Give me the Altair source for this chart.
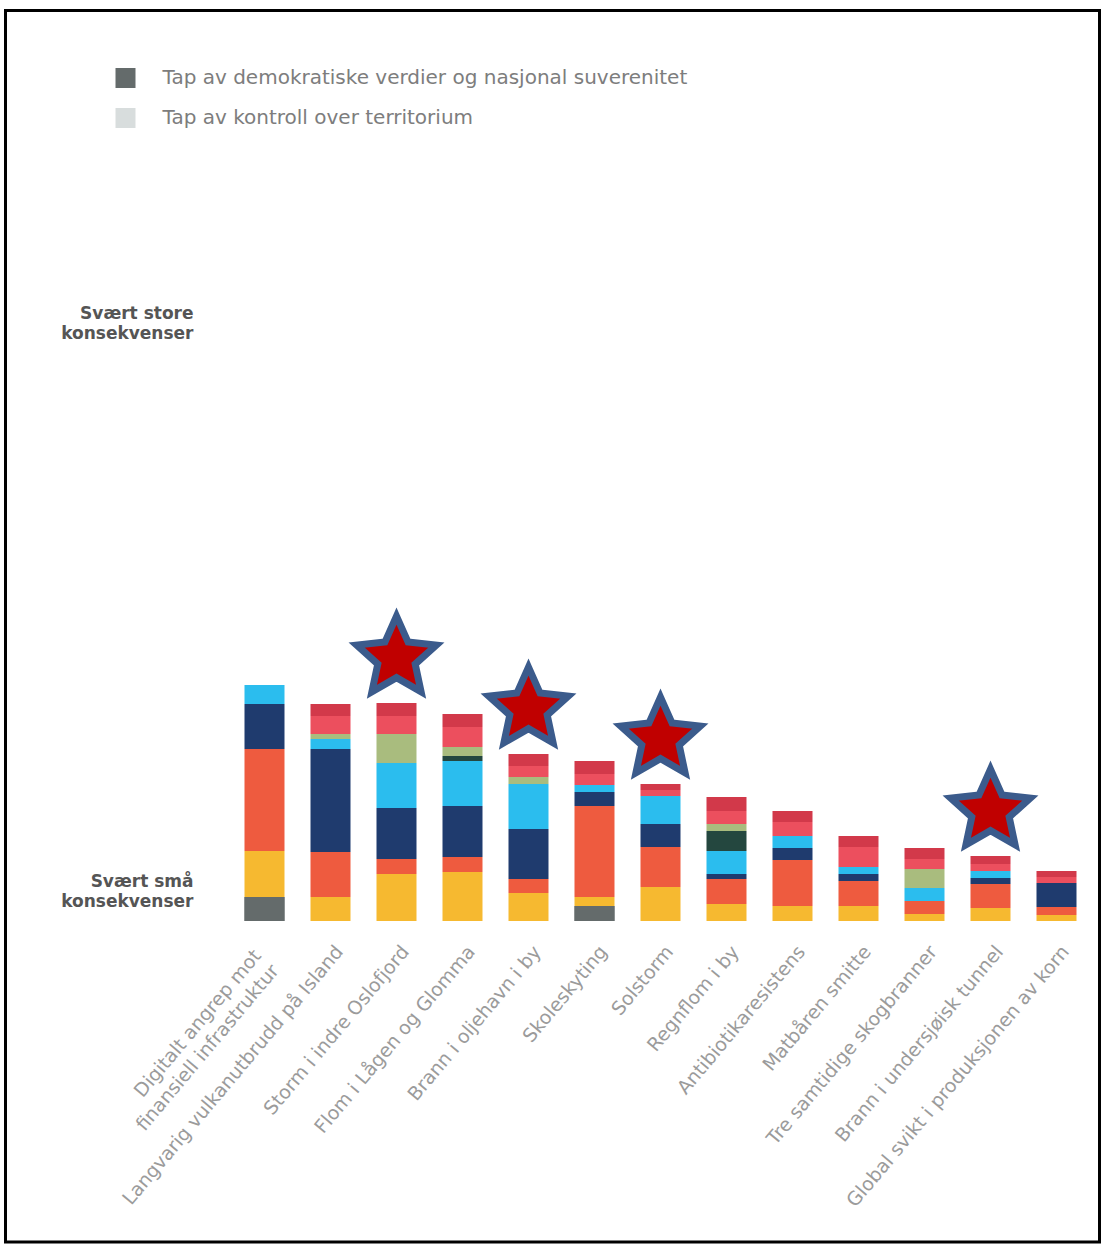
import altair as alt
import pandas as pd

scenarios = [
    "Digitalt angrep mot finansiell infrastruktur",
    "Langvarig vulkanutbrudd på Island",
    "Storm i indre Oslofjord",
    "Flom i Lågen og Glomma",
    "Brann i oljehavn i by",
    "Skoleskyting",
    "Solstorm",
    "Regnflom i by",
    "Antibiotikaresistens",
    "Matbåren smitte",
    "Tre samtidige skogbranner",
    "Brann i undersjøisk tunnel",
    "Global svikt i produksjonen av korn",
]

starred = [
    "Storm i indre Oslofjord",
    "Brann i oljehavn i by",
    "Solstorm",
    "Brann i undersjøisk tunnel",
]

series = [
    "Tap av demokratiske verdier og nasjonal suverenitet",
    "Tap av kontroll over territorium",
    "Økonomiske tap",
    "Påkjenninger i dagliglivet",
    "Manglende dekning av grunnleggende behov",
    "Sosiale og psykologiske reaksjoner",
    "Skader på kulturmiljø",
    "Langtidsskader på naturmiljø",
    "Alvorlig skadde og syke",
    "Dødsfall",
]
colors = ["#6D7575", "#D5DBDB", "#F6B930", "#EE5B3F", "#1F3B6E",
          "#2BBDEE", "#24473F", "#A9BC7E", "#EC4F5E", "#D2394A"]

v_demokrati = [24, 0, 0, 0, 0, 15, 0, 0, 0, 0, 0, 0, 0]
v_territorium = [0, 0, 0, 0, 0, 0, 0, 0, 0, 0, 0, 0, 0]
v_okonomi = [46, 24, 47, 49, 28, 9, 34, 17, 15, 15, 7, 13, 6]
v_dagligliv = [102, 45, 15, 15, 14, 91, 40, 25, 46, 25, 13, 24, 8]
v_behov = [45, 103, 51, 51, 50, 14, 23, 5, 12, 7, 0, 6, 24]
v_sosiale = [19, 10, 45, 45, 45, 7, 28, 23, 12, 7, 13, 7, 0]
v_kultur = [0, 0, 0, 5, 0, 0, 0, 20, 0, 0, 0, 0, 0]
v_natur = [0, 5, 29, 9, 7, 0, 0, 7, 0, 0, 19, 0, 0]
v_skadde = [0, 18, 18, 20, 11, 11, 6, 13, 14, 20, 10, 7, 6]
v_dodsfall = [0, 12, 13, 13, 12, 13, 6, 14, 11, 11, 11, 8, 6]

all_values = [v_demokrati, v_territorium, v_okonomi, v_dagligliv, v_behov,
              v_sosiale, v_kultur, v_natur, v_skadde, v_dodsfall]

legend_entries = series[:2]
legend_colors = ["#646B6B", "#D8DDDD"]

y_tick_values = [39, 607]
y_tick_labels = ["Svært små\nkonsekvenser", "Svært store\nkonsekvenser"]
x_multiline = {"Digitalt angrep mot finansiell infrastruktur":
               ["Digitalt angrep mot", "finansiell infrastruktur"]}

# five-pointed star outline in the [-1, 1] box
STAR_PATH = ("M0,-1L0.276,-0.380L0.951,-0.309L0.447,0.145L0.588,0.809L0,0.47"
             "L-0.588,0.809L-0.447,0.145L-0.951,-0.309L-0.276,-0.380Z")

rows = []
for si, (name, vals) in enumerate(zip(series, all_values)):
    for sc, v in zip(scenarios, vals):
        rows.append({"scenario": sc, "type": name, "order": si, "value": v})
df = pd.DataFrame(rows)

totals = [sum(col) for col in zip(*all_values)]
star_df = pd.DataFrame({"scenario": scenarios, "total": totals})
star_df = star_df[star_df["scenario"].isin(starred)]

ylab_df = pd.DataFrame({"pos": y_tick_values, "label": y_tick_labels})


def arr(lines):
    return "[" + ", ".join("'" + s + "'" for s in lines) + "]"


x_expr = "".join(f"datum.label == '{k}' ? {arr(v)} : " for k, v in x_multiline.items()) + "datum.label"
multi_test = " || ".join(f"datum.label == '{k}'" for k in x_multiline)

x_enc = alt.X(
    "scenario:N", sort=scenarios, title=None,
    scale=alt.Scale(paddingInner=0.394, paddingOuter=0.197),
    axis=alt.Axis(labelAngle=-50, labelAlign="right", labelBaseline="middle",
                  labelFont="DejaVu Sans", labelFontSize=19, labelColor="#9b9b9b",
                  labelPadding={"condition": {"test": multi_test, "value": 31}, "value": 27},
                  labelOffset={"condition": {"test": multi_test, "value": -7}, "value": 9},
                  labelLineHeight=23,
                  domain=False, ticks=False, grid=False, labelExpr=x_expr,
                  labelOverlap=False, labelLimit=500),
)
y_scale = alt.Scale(domain=[0, 640], nice=False, zero=True)

bars = alt.Chart(df).mark_bar().encode(
    x=x_enc,
    y=alt.Y("sum(value):Q", title=None, scale=y_scale, axis=None),
    color=alt.Color("type:N", scale=alt.Scale(domain=series, range=colors), legend=None),
    order=alt.Order("order:Q", sort="ascending"),
)

legend_layer = alt.Chart(df).transform_filter(
    alt.FieldOneOfPredicate(field="type", oneOf=legend_entries)
).mark_bar().encode(
    x=alt.X("scenario:N", sort=scenarios),
    y=alt.Y("sum(value):Q"),
    fill=alt.Fill("type:N",
                  scale=alt.Scale(domain=legend_entries, range=legend_colors),
                  legend=alt.Legend(orient="none", legendX=-116, legendY=-213,
                                    title=None, symbolType="square", symbolSize=400,
                                    symbolStrokeWidth=0,
                                    labelFont="DejaVu Sans", labelFontSize=20,
                                    labelColor="#7d7d7d", labelOffset=27,
                                    rowPadding=20, labelLimit=700)),
    order=alt.Order("order:Q", sort="ascending"),
)

ylabels = alt.Chart(ylab_df).mark_text(
    align="right", baseline="middle", lineBreak="\n", lineHeight=20,
    font="DejaVu Sans", fontWeight="bold", fontSize=17, color="#555555",
).encode(
    x=alt.value(-38),
    y=alt.Y("pos:Q"),
    text="label:N",
)

stars = alt.Chart(star_df).mark_point(
    shape=STAR_PATH, filled=True, size=7000, fill="#C00000",
    stroke="#3B5B8C", strokeWidth=7, opacity=1, yOffset=-45,
).encode(
    x=alt.X("scenario:N", sort=scenarios),
    y=alt.Y("total:Q"),
)

frame = alt.Chart(alt.Data(values=[{"f": 1}])).mark_rect(
    fillOpacity=0, stroke="black", strokeWidth=3
).encode(
    x=alt.value(-226), x2=alt.value(868), y=alt.value(-270.5), y2=alt.value(961)
)

chart = alt.layer(bars, legend_layer, ylabels, stars, frame).properties(
    width=858, height=640, background="white",
    padding={"left": 3.5, "top": 9, "right": 0, "bottom": 0},
).configure_view(stroke=None)

chart.save("out.html", embed_options={"renderer": "svg", "actions": False})
